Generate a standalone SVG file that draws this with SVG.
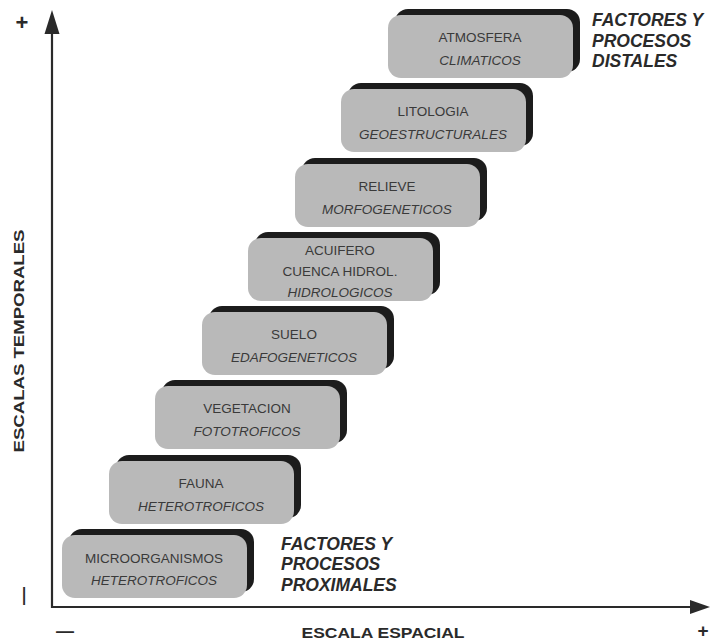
<svg xmlns="http://www.w3.org/2000/svg" width="710" height="642" viewBox="0 0 710 642">
  <defs>
    <style>
      .card { fill: #b9b9b9; }
      .back { fill: #1c1c1c; }
      .lbl { font-family: "Liberation Sans", Arial, sans-serif; font-size: 13.5px; fill: #3a3a3a; text-anchor: middle; }
      .it { font-style: italic; }
      .big { font-family: "Liberation Sans", Arial, sans-serif; font-size: 17.5px; font-weight: bold; font-style: italic; fill: #2a2a2a; }
      .axl { font-family: "Liberation Sans", Arial, sans-serif; font-size: 15px; font-weight: bold; fill: #2a2a2a; }
      .sign { font-family: "Liberation Sans", Arial, sans-serif; font-size: 22px; font-weight: bold; fill: #2a2a2a; text-anchor: middle; }
      .dash { font-family: "Liberation Sans", Arial, sans-serif; font-size: 18px; font-weight: bold; fill: #2a2a2a; text-anchor: middle; }
      .axis { stroke: #2a2a2a; stroke-width: 2.2; fill: none; }
      .head { fill: #2a2a2a; }
    </style>
    <!-- one stepped card: a dark copy nudged up-right behind a grey rounded face -->
    <g id="card">
      <rect class="back" x="7" y="-6" width="185" height="63" rx="13"/>
      <rect class="card" x="0" y="0" width="185" height="63" rx="13"/>
    </g>
  </defs>

  <rect width="710" height="642" fill="#ffffff"/>

  <!-- axes -->
  <g id="connectors">
    <line class="axis" x1="52" y1="608" x2="52" y2="28"/>
    <polygon class="head" points="52,10 44.5,34 59.5,34"/>
    <line class="axis" x1="51" y1="607" x2="692" y2="607"/>
    <polygon class="head" points="710,607 690,600 690,614"/>
  </g>

  <!-- axis labels and signs -->
  <g id="axis-labels">
    <text class="sign" x="22" y="30">+</text>
    <text class="dash" x="0" y="6" transform="translate(23,596) rotate(-90)">—</text>
    <text class="axl" x="24" y="341" transform="rotate(-90 24 341)" text-anchor="middle" textLength="223" lengthAdjust="spacingAndGlyphs">ESCALAS TEMPORALES</text>
    <text class="dash" x="65" y="637">—</text>
    <text class="axl" x="383" y="638" text-anchor="middle" textLength="163" lengthAdjust="spacingAndGlyphs">ESCALA ESPACIAL</text>
    <text class="sign" x="703" y="637" style="font-size:19px">+</text>
  </g>

  <!-- cards, top (distal) to bottom (proximal) -->
  <g id="atmosfera" transform="translate(388,15)">
    <use href="#card"/>
    <text class="lbl" x="92" y="27">ATMOSFERA</text>
    <text class="lbl it" x="92" y="50">CLIMATICOS</text>
  </g>
  <g id="litologia" transform="translate(341,89)">
    <use href="#card"/>
    <text class="lbl" x="92" y="27">LITOLOGIA</text>
    <text class="lbl it" x="92" y="50">GEOESTRUCTURALES</text>
  </g>
  <g id="relieve" transform="translate(295,164)">
    <use href="#card"/>
    <text class="lbl" x="92" y="27">RELIEVE</text>
    <text class="lbl it" x="92" y="50">MORFOGENETICOS</text>
  </g>
  <g id="acuifero" transform="translate(248,238)">
    <use href="#card"/>
    <text class="lbl" x="92" y="17">ACUIFERO</text>
    <text class="lbl" x="92" y="38">CUENCA HIDROL.</text>
    <text class="lbl it" x="92" y="59">HIDROLOGICOS</text>
  </g>
  <g id="suelo" transform="translate(202,312)">
    <use href="#card"/>
    <text class="lbl" x="92" y="27">SUELO</text>
    <text class="lbl it" x="92" y="50">EDAFOGENETICOS</text>
  </g>
  <g id="vegetacion" transform="translate(155,386)">
    <use href="#card"/>
    <text class="lbl" x="92" y="27">VEGETACION</text>
    <text class="lbl it" x="92" y="50">FOTOTROFICOS</text>
  </g>
  <g id="fauna" transform="translate(109,461)">
    <use href="#card"/>
    <text class="lbl" x="92" y="27">FAUNA</text>
    <text class="lbl it" x="92" y="50">HETEROTROFICOS</text>
  </g>
  <g id="microorganismos" transform="translate(62,535)">
    <use href="#card"/>
    <text class="lbl" x="92" y="28">MICROORGANISMOS</text>
    <text class="lbl it" x="92" y="50">HETEROTROFICOS</text>
  </g>

  <!-- group captions -->
  <g id="distales">
    <text class="big" x="592" y="26">FACTORES Y</text>
    <text class="big" x="592" y="47">PROCESOS</text>
    <text class="big" x="592" y="67">DISTALES</text>
  </g>
  <g id="proximales">
    <text class="big" x="281" y="550">FACTORES Y</text>
    <text class="big" x="281" y="570">PROCESOS</text>
    <text class="big" x="281" y="591">PROXIMALES</text>
  </g>
</svg>
